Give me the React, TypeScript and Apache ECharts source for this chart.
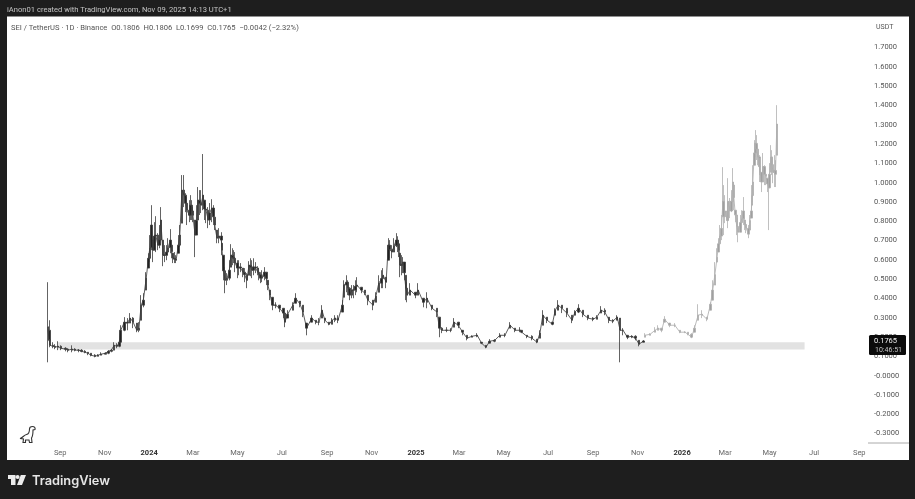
import React, { useEffect, useRef } from "react";
import * as echarts from "echarts";

const LISTING_DATE = "2023-08-15";
const X_MIN = "2023-06-20";
const X_MAX = "2026-09-13";

// SEI / USDT: days since listing, high, low, close
const histDays = [0,2,3,7,10,14,18,24,28,33,37,42,46,51,55,59,65,69,73,79,83,87,91,95,98,100,105,109,113,117,122,125,128,131,135,138,142,144,148,151,155,158,163,168,172,176,179,181,184,187,191,194,196,199,202,206,210,213,217,220,225,229,232,238,239,243,246,249,251,255,260,264,268,273,276,280,285,288,292,297,302,305,308,312,318,323,325,329,336,340,346,350,355,362,368,372,376,380,386,390,394,398,404,406,410,414,419,424,430,435,439,446,450,454,460,464,467,472,478,482,483,487,493,497,504,508,515,520,527,534,537,541,547,553,557,563,569,575,582,589,595,601,606,613,620,627,634,641,648,650,657,664,671,675,679,685,692,696,700,705,712,719,723,728,734,741,748,753,759,764,770,775,781,785,789,795,801,806,811,817];
const histHigh = [.481,.284,.186,.170,.160,.175,.154,.144,.139,.154,.139,.134,.134,.129,.118,.113,.108,.108,.118,.118,.129,.134,.170,.165,.180,.258,.300,.295,.321,.300,.269,.274,.414,.424,.533,.631,.880,.699,.823,.735,.870,.699,.673,.756,.631,.621,.725,.777,1.036,1.036,.922,.906,.932,.870,.803,.974,.958,1.145,.891,.870,.911,.818,.751,.740,.683,.559,.528,.595,.678,.647,.595,.580,.554,.528,.590,.595,.585,.564,.533,.559,.491,.440,.403,.377,.362,.346,.321,.336,.377,.424,.383,.362,.269,.310,.284,.295,.362,.295,.274,.295,.310,.310,.388,.491,.517,.455,.466,.507,.455,.440,.414,.388,.429,.517,.554,.507,.709,.673,.735,.699,.631,.611,.481,.476,.429,.476,.398,.429,.362,.346,.300,.248,.248,.243,.295,.274,.232,.206,.206,.217,.170,.154,.186,.186,.217,.217,.274,.243,.248,.232,.206,.206,.186,.232,.336,.300,.274,.346,.388,.362,.346,.310,.336,.367,.336,.310,.300,.310,.357,.346,.300,.289,.310,.295,.243,.206,.206,.206,.180,.1806];
const histLow = [.066,.154,.144,.139,.134,.129,.129,.123,.118,.118,.123,.118,.118,.113,.103,.097,.092,.097,.103,.108,.108,.118,.129,.139,.144,.170,.227,.232,.269,.243,.222,.222,.284,.351,.440,.554,.647,.585,.637,.647,.699,.564,.595,.631,.580,.580,.631,.663,.787,.870,.777,.792,.803,.792,.611,.803,.839,.854,.787,.761,.792,.751,.683,.663,.621,.424,.466,.491,.559,.580,.502,.533,.507,.450,.517,.502,.528,.517,.476,.491,.440,.388,.336,.346,.326,.295,.248,.295,.336,.372,.351,.300,.206,.274,.263,.258,.295,.269,.258,.263,.274,.269,.326,.403,.429,.388,.398,.429,.424,.414,.362,.336,.377,.429,.450,.450,.595,.605,.663,.611,.507,.528,.377,.414,.398,.414,.351,.346,.336,.300,.196,.217,.222,.222,.248,.243,.206,.180,.196,.196,.160,.139,.165,.170,.196,.196,.243,.222,.222,.217,.191,.180,.165,.191,.258,.269,.258,.310,.336,.321,.300,.269,.310,.321,.300,.284,.279,.289,.321,.310,.269,.269,.284,.066,.206,.186,.191,.180,.149,.1699];
const histClose = [.232,.180,.154,.149,.144,.149,.139,.134,.129,.134,.129,.129,.123,.118,.113,.103,.097,.103,.108,.113,.123,.129,.154,.149,.170,.232,.274,.269,.295,.274,.232,.243,.362,.388,.502,.605,.777,.647,.725,.673,.803,.621,.637,.699,.605,.595,.673,.725,.958,.932,.854,.828,.880,.828,.725,.906,.880,.932,.854,.803,.865,.777,.709,.699,.647,.491,.502,.543,.621,.605,.554,.554,.533,.491,.569,.543,.554,.533,.502,.533,.466,.414,.362,.362,.346,.321,.274,.315,.362,.398,.367,.326,.243,.295,.274,.274,.336,.284,.263,.284,.295,.284,.362,.466,.481,.414,.440,.466,.440,.424,.388,.362,.408,.476,.517,.481,.673,.637,.699,.647,.569,.585,.414,.440,.414,.440,.377,.398,.346,.326,.243,.232,.232,.232,.274,.258,.222,.191,.201,.206,.165,.144,.175,.180,.206,.206,.258,.232,.232,.222,.201,.191,.170,.217,.310,.284,.263,.336,.362,.346,.321,.284,.326,.346,.315,.295,.289,.300,.336,.326,.284,.279,.300,.232,.232,.196,.201,.191,.160,.1765];

const denseDays = [140,146,153,160,165,170,174,189,198,204,208,215,222,227,235,241,253,257,262,270,278,282,290,294,300,412,417,422,458,469,475,480,485,489,491];
const denseHigh = [.725,.792,.777,.673,.709,.673,.637,.942,.906,.880,.958,.906,.891,.880,.761,.621,.657,.637,.595,.554,.605,.605,.554,.543,.533,.491,.466,.491,.543,.699,.709,.719,.621,.585,.517];
const denseLow = [.585,.647,.657,.585,.621,.605,.580,.844,.803,.725,.829,.803,.777,.777,.683,.491,.569,.533,.517,.481,.512,.517,.491,.481,.466,.414,.398,.414,.450,.605,.637,.637,.517,.491,.388];
const denseClose = [.66,.72,.70,.62,.66,.64,.60,.89,.85,.80,.89,.86,.84,.82,.72,.54,.61,.58,.56,.52,.56,.56,.52,.51,.50,.45,.44,.46,.50,.65,.67,.68,.57,.53,.45];

// the drawn-in projection, in grey
const projDays = [819,826,833,837,842,846,853,860,867,874,878,883,887,892,897,904,909,912,915,918,920,922,924,926,927,929,932,933,936,938,940,941,943,945,947,950,952,954,956,958,961,963,965,966,967,969,971,972,974,976,977,979,981,983,985,987,989,990,992,993,995,997,998,1000];
const projHigh = [.217,.217,.248,.258,.243,.305,.269,.269,.232,.227,.222,.217,.258,.367,.336,.300,.377,.491,.585,.657,.709,.777,.829,1.077,.984,.932,.896,1.020,.917,.958,1.072,.984,.854,.829,.813,.829,.854,.922,.803,.792,.777,.829,.880,.984,1.087,1.217,1.269,1.243,1.191,1.139,1.124,1.051,1.150,1.087,1.072,1.020,1.020,1.098,1.191,1.165,1.124,1.139,1.113,1.398];
const projLow = [.196,.206,.222,.232,.222,.274,.248,.248,.217,.217,.206,.191,.222,.284,.295,.279,.336,.388,.466,.585,.637,.673,.699,.844,.725,.787,.761,.803,.813,.844,.896,.854,.792,.725,.688,.740,.761,.777,.751,.735,.709,.751,.813,.880,.896,1.087,1.129,1.114,1.087,1.036,1.000,.948,1.000,.984,.984,.948,.751,.968,1.051,1.036,.994,.974,.974,1.139];
const projClose = [.206,.211,.232,.243,.232,.289,.258,.258,.222,.222,.211,.196,.243,.310,.315,.289,.367,.440,.520,.610,.680,.720,.760,.900,.820,.850,.800,.900,.850,.900,1.000,.920,.830,.770,.740,.790,.810,.850,.780,.760,.730,.800,.850,.930,1.000,1.150,1.200,1.170,1.130,1.080,1.050,1.000,1.080,1.040,1.030,.990,.970,1.040,1.130,1.090,1.050,1.060,1.040,1.300];

const ZONE_START = "2023-08-29";
const ZONE_END = "2026-06-18";
const ZONE_TOP = 0.17;
const ZONE_BOTTOM = 0.132;

const xTickDates = ["2023-09-01","2023-11-01","2024-01-01","2024-03-01","2024-05-01","2024-07-01","2024-09-01","2024-11-01","2025-01-01","2025-03-01","2025-05-01","2025-07-01","2025-09-01","2025-11-01","2026-01-01","2026-03-01","2026-05-01","2026-07-01","2026-09-01"];
const xTickLabels = ["Sep","Nov","2024","Mar","May","Jul","Sep","Nov","2025","Mar","May","Jul","Sep","Nov","2026","Mar","May","Jul","Sep"];
const yTicks = [-0.3,-0.2,-0.1,0,0.1,0.2,0.3,0.4,0.5,0.6,0.7,0.8,0.9,1,1.1,1.2,1.3,1.4,1.5,1.6,1.7];

const HEADER = "iAnon01 created with TradingView.com, Nov 09, 2025 14:13 UTC+1";
const LEGEND = "SEI / TetherUS · 1D · Binance  O0.1806  H0.1806  L0.1699  C0.1765  −0.0042 (−2.32%)";
const PRICE_TAG = "0.1765";
const COUNTDOWN = "10:46:51";

const DAY = 86400000;
const ms = (d: string) => new Date(d + "T00:00:00Z").getTime();

type Row = { d: number; h: number; l: number; c: number };
function rows(days: number[], hi: number[], lo: number[], cl: number[]): Row[] {
  return days.map((d, i) => ({ d, h: hi[i], l: lo[i], c: cl[i] }));
}
function candles(list: Row[], firstOpen: number) {
  return list.map((r, i) => {
    const prev = i === 0 ? firstOpen : list[i - 1].c;
    const open = Math.min(r.h, Math.max(r.l, prev));
    return [ms(LISTING_DATE) + r.d * DAY, open, r.c, r.l, r.h];
  });
}
const closeLine = (list: Row[]) => list.map((r) => [ms(LISTING_DATE) + r.d * DAY, r.c]);

const FONT = "Roboto, sans-serif";
const DINO = "M13 .5C15 .5 16 2 15.5 3.5L13.5 4C13.5 7 13.5 10 12 12L12.5 16.5L10 16.5L9.5 14L6 14L6 16.5L3.5 16.5L4 13L.5 12.5C3 12 4.5 9 7 8.5C9.5 8 10 6 10 3C10 1.5 11.5 .5 13 .5Z";
const TV_MARK = "M7.5 0H0V4H3V10H7.5ZM18 0H12.8L9 10H14ZM11.6 2A2 2 0 1 1 7.6 2A2 2 0 1 1 11.6 2Z";

export default function App() {
  const ref = useRef<HTMLDivElement>(null);
  useEffect(() => {
    if (!ref.current) return;
    echarts.graphic.registerShape("dino", echarts.graphic.extendPath(DINO, {}) as any);
    echarts.graphic.registerShape("tvmark", echarts.graphic.extendPath(TV_MARK, {}) as any);
    const chart = echarts.init(ref.current, undefined, { renderer: "svg" });
    const tickLabelOf = new Map(xTickDates.map((d, i) => [ms(d), xTickLabels[i]]));
    const hist = [...rows(histDays, histHigh, histLow, histClose), ...rows(denseDays, denseHigh, denseLow, denseClose)].sort((a, b) => a.d - b.d);
    const proj = rows(projDays, projHigh, projLow, projClose);
    const candleSeries = (name: string, data: any[], body: string, wick: string, extra: any = {}) => ({
      name,
      type: "candlestick",
      data,
      barWidth: 2,
      z: 3,
      encode: { x: 0, y: [1, 2, 3, 4] },
      itemStyle: { color: body, color0: body, borderColor: wick, borderColor0: wick, borderWidth: 0.8 },
      ...extra,
    });
    chart.setOption({
      animation: false,
      backgroundColor: "#1e1e1e",
      textStyle: { fontFamily: FONT },
      grid: { left: 7, right: 47, top: 16, bottom: 56 },
      xAxis: {
        type: "value",
        scale: true,
        min: ms(X_MIN),
        max: ms(X_MAX),
        axisLine: { show: false },
        axisTick: { show: false },
        splitLine: { show: false },
        axisLabel: {
          customValues: xTickDates.map(ms),
          fontSize: 7.5,
          color: "#666",
          margin: 5,
          hideOverlap: false,
          formatter: (v: number) => {
            const t = tickLabelOf.get(v) ?? "";
            return /^\d{4}$/.test(t) ? `{b|${t}}` : t;
          },
          rich: { b: { fontSize: 7.5, fontWeight: "bold", color: "#333", fontFamily: FONT } },
        },
      },
      yAxis: {
        type: "value",
        position: "right",
        min: -0.352,
        max: 1.86,
        scale: true,
        axisLine: { show: false },
        axisTick: { show: false },
        splitLine: { show: false },
        axisLabel: {
          customValues: yTicks,
          fontSize: 7.5,
          color: "#555",
          margin: 6,
          align: "left",
          formatter: (v: number) => (Math.abs(v) < 1e-9 ? "-0.0000" : v < 0 ? "-" + Math.abs(v).toFixed(4) : v.toFixed(4)),
        },
      },
      series: [
        candleSeries("SEI / TetherUS", candles(hist, 0.25), "#222", "#3c3c3c", {
          markArea: {
            silent: true,
            z: 1,
            itemStyle: { color: "#e2e2e2" },
            data: [[{ xAxis: ms(ZONE_START), yAxis: ZONE_TOP }, { xAxis: ms(ZONE_END), yAxis: ZONE_BOTTOM }]],
          },
        }),
        { type: "line", data: closeLine(hist), symbol: "none", z: 3, lineStyle: { color: "#333", width: 0.8 } },
        candleSeries("Projection", candles(proj, 0.18), "#a0a0a0", "#b0b0b0"),
        { type: "line", data: closeLine(proj), symbol: "none", z: 3, lineStyle: { color: "#aaa", width: 0.8 } },
      ],
      graphic: [
        { type: "rect", z: -10, silent: true, shape: { x: 7, y: 16.5, width: 902, height: 443.5 }, style: { fill: "#fff" } },
        { type: "line", z: 20, silent: true, shape: { x1: 868, y1: 443, x2: 909, y2: 443 }, style: { stroke: "#aaa", lineWidth: 1 } },
        { type: "text", z: 20, x: 7, y: 9, silent: true, style: { text: HEADER, fill: "#c4c4c4", font: `7.6px ${FONT}`, textVerticalAlign: "middle" } },
        { type: "text", z: 20, x: 11, y: 27, silent: true, style: { text: LEGEND, fill: "#555", font: `7.6px ${FONT}`, textVerticalAlign: "middle" } },
        { type: "text", z: 20, x: 876, y: 27, silent: true, style: { text: "USDT", fill: "#555", font: `7px ${FONT}`, textVerticalAlign: "middle" } },
        { type: "rect", z: 30, silent: true, shape: { x: 869, y: 335, width: 37, height: 20, r: 1.5 }, style: { fill: "#0b0b0b" } },
        { type: "text", z: 31, x: 874, y: 340.5, silent: true, style: { text: PRICE_TAG, fill: "#f2f2f2", font: `7.5px ${FONT}`, textVerticalAlign: "middle" } },
        { type: "text", z: 31, x: 875, y: 350, silent: true, style: { text: COUNTDOWN, fill: "#c4c4c4", font: `7px ${FONT}`, textVerticalAlign: "middle" } },
        { type: "dino", z: 20, x: 19.5, y: 426, silent: true, style: { fill: "#fff", stroke: "#333", lineWidth: 1.1 } },
        { type: "tvmark", z: 20, x: 8, y: 475, silent: true, style: { fill: "#ececec" } },
        { type: "text", z: 20, x: 32, y: 480, silent: true, style: { text: "TradingView", fill: "#e6e6e6", font: `600 12.8px Inter, ${FONT}`, textVerticalAlign: "middle" } },
      ],
    });
    return () => chart.dispose();
  }, []);
  return (
    <div
      ref={ref}
      style={{ position: "absolute", left: 0, top: 0, width: 915, height: 499, filter: "blur(0.7px)" }}
    />
  );
}
